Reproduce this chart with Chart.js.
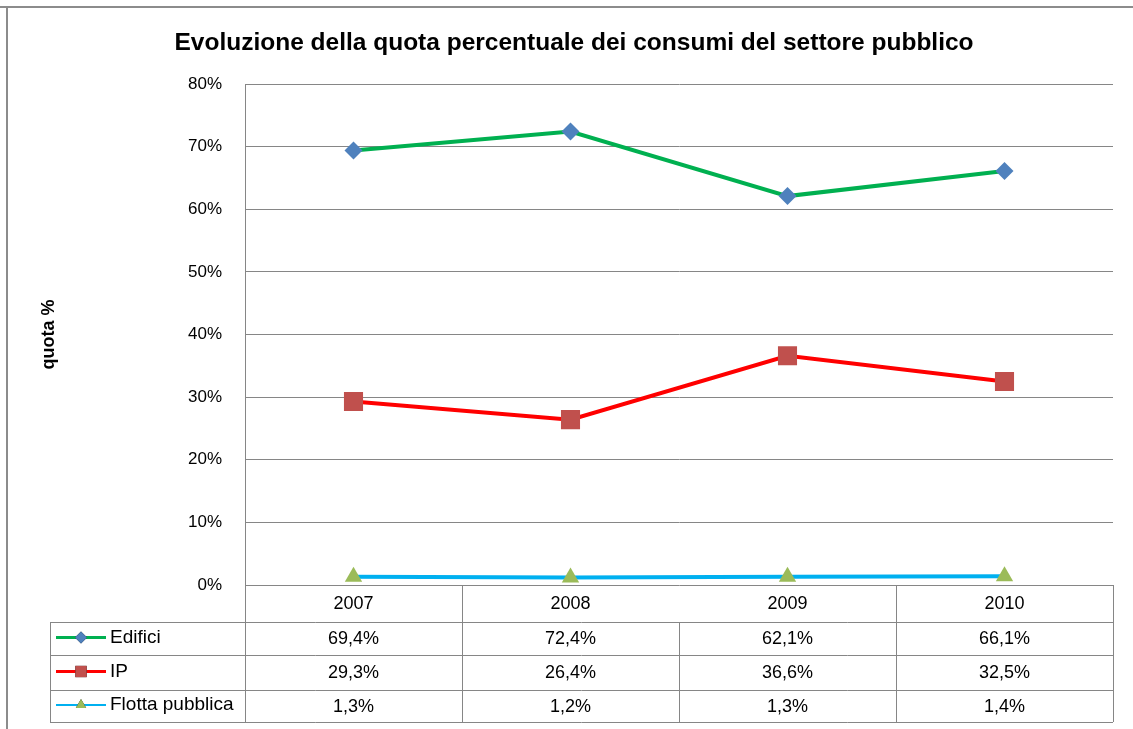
<!DOCTYPE html>
<html>
<head>
<meta charset="utf-8">
<script src="https://cdn.jsdelivr.net/npm/chart.js@4/dist/chart.umd.min.js"></script>
<style>
  html, body { margin: 0; padding: 0; background: #fff; }
  #wrap { width: 1133px; height: 729px; position: relative; }
</style>
</head>
<body>
<div id="wrap"><canvas id="chart" width="1133" height="729"></canvas></div>
<script>
const years = ["2007", "2008", "2009", "2010"];
const edifici = [69.4, 72.4, 62.1, 66.1];
const ip = [29.3, 26.4, 36.6, 32.5];
const flotta = [1.3, 1.2, 1.3, 1.4];
const yTicks = [0, 10, 20, 30, 40, 50, 60, 70, 80];
const chartTitle = "Evoluzione della quota percentuale dei consumi del settore pubblico";

const gridColor = "#868686";
const fontName = "'Liberation Sans', Arial, sans-serif";

function fmt(v) {
  return v.toFixed(1).replace(".", ",") + "%";
}

// frame, title and data table under the plot
const tablePlugin = {
  id: "dataTable",
  afterDraw(chart) {
    const ctx = chart.ctx;
    const area = chart.chartArea;
    const x = chart.scales.x;
    const band = (area.right - area.left) / years.length;
    const rows = [area.bottom, 622, 655, 690, 722];
    const legLeft = 50;

    ctx.save();
    // outer frame
    ctx.strokeStyle = "#8c8c8c";
    ctx.lineWidth = 2;
    ctx.beginPath();
    ctx.moveTo(0, 7); ctx.lineTo(1133, 7);
    ctx.moveTo(7, 7); ctx.lineTo(7, 729);
    ctx.stroke();

    // title
    ctx.fillStyle = "#000";
    ctx.font = "bold 24.5px " + fontName;
    ctx.textAlign = "center";
    ctx.textBaseline = "middle";
    ctx.fillText(chartTitle, 574, 43);

    ctx.strokeStyle = gridColor;
    ctx.lineWidth = 1;
    ctx.beginPath();
    for (let r = 1; r < rows.length; r++) {
      ctx.moveTo(legLeft, rows[r] + 0.5);
      ctx.lineTo(area.right, rows[r] + 0.5);
    }
    ctx.moveTo(legLeft + 0.5, rows[1]);
    ctx.lineTo(legLeft + 0.5, rows[4]);
    ctx.moveTo(area.left + 0.5, rows[0]);
    ctx.lineTo(area.left + 0.5, rows[4]);
    ctx.moveTo(area.right + 0.5, rows[0]);
    ctx.lineTo(area.right + 0.5, rows[4]);
    for (let i = 1; i < years.length; i++) {
      const cx = Math.round(area.left + band * i) + 0.5;
      const start = i === 2 ? rows[1] : rows[0];
      ctx.moveTo(cx, start);
      ctx.lineTo(cx, rows[4]);
    }
    ctx.stroke();

    // texts
    ctx.fillStyle = "#000";
    ctx.font = "18px " + fontName;
    years.forEach((y, i) => {
      ctx.fillText(y, x.getPixelForValue(i), (rows[0] + rows[1]) / 2 + 1);
    });
    chart.data.datasets.forEach((ds, r) => {
      const cy = (rows[r + 1] + rows[r + 2]) / 2 + 1;
      ctx.font = "18px " + fontName;
      ds.data.forEach((v, i) => {
        ctx.fillText(fmt(v), x.getPixelForValue(i), cy);
      });
      // legend key
      ctx.strokeStyle = ds.borderColor;
      ctx.lineWidth = r === 2 ? 2 : 3;
      ctx.beginPath();
      ctx.moveTo(56, cy - 2);
      ctx.lineTo(106, cy - 2);
      ctx.stroke();
      Chart.helpers.drawPoint(ctx, {
        pointStyle: ds.pointStyle,
        radius: ds.legendRadius,
        rotation: 0,
        borderWidth: 0
      }, 81, cy - 2);
      ctx.fillStyle = ds.pointBackgroundColor;
      ctx.fill();
      ctx.fillStyle = "#000";
      ctx.textAlign = "left";
      ctx.font = "19px " + fontName;
      ctx.fillText(ds.label, 110, cy - 2);
      ctx.textAlign = "center";
    });
    ctx.restore();
  }
};

new Chart(document.getElementById("chart"), {
  type: "line",
  data: {
    labels: years,
    datasets: [
      {
        label: "Edifici",
        data: edifici,
        borderColor: "#00B050",
        borderWidth: 4,
        pointStyle: "rectRot",
        pointRadius: 9,
        pointBackgroundColor: "#4F81BD",
        pointBorderWidth: 0,
        legendRadius: 6
      },
      {
        label: "IP",
        data: ip,
        borderColor: "#FF0000",
        borderWidth: 4,
        pointStyle: "rect",
        pointRadius: 13.5,
        pointBackgroundColor: "#C0504D",
        pointBorderWidth: 0,
        legendRadius: 8
      },
      {
        label: "Flotta pubblica",
        data: flotta,
        borderColor: "#00B0F0",
        borderWidth: 4,
        pointStyle: "triangle",
        pointRadius: 10,
        pointBackgroundColor: "#9BBB59",
        pointBorderWidth: 0,
        legendRadius: 6
      }
    ]
  },
  options: {
    responsive: false,
    animation: false,
    layout: { padding: { left: 0, right: 20, top: 84, bottom: 144 } },
    plugins: {
      legend: { display: false },
      tooltip: { enabled: false },
      title: { display: false }
    },
    scales: {
      x: {
        display: false,
        offset: true
      },
      y: {
        min: 0,
        max: 80,
        afterFit(scale) { scale.width = 245; },
        afterBuildTicks(scale) { scale.ticks = yTicks.map(v => ({ value: v })); },
        ticks: {
          color: "#000",
          padding: 23,
          font: { family: fontName, size: 17 },
          callback: v => v + "%"
        },
        grid: { color: gridColor, drawTicks: false },
        border: { color: gridColor },
        title: {
          display: true,
          text: "quota %",
          color: "#000",
          font: { family: fontName, size: 18, weight: "bold" },
          padding: { top: 38, bottom: 0 }
        }
      }
    }
  },
  plugins: [tablePlugin]
});
</script>
</body>
</html>
